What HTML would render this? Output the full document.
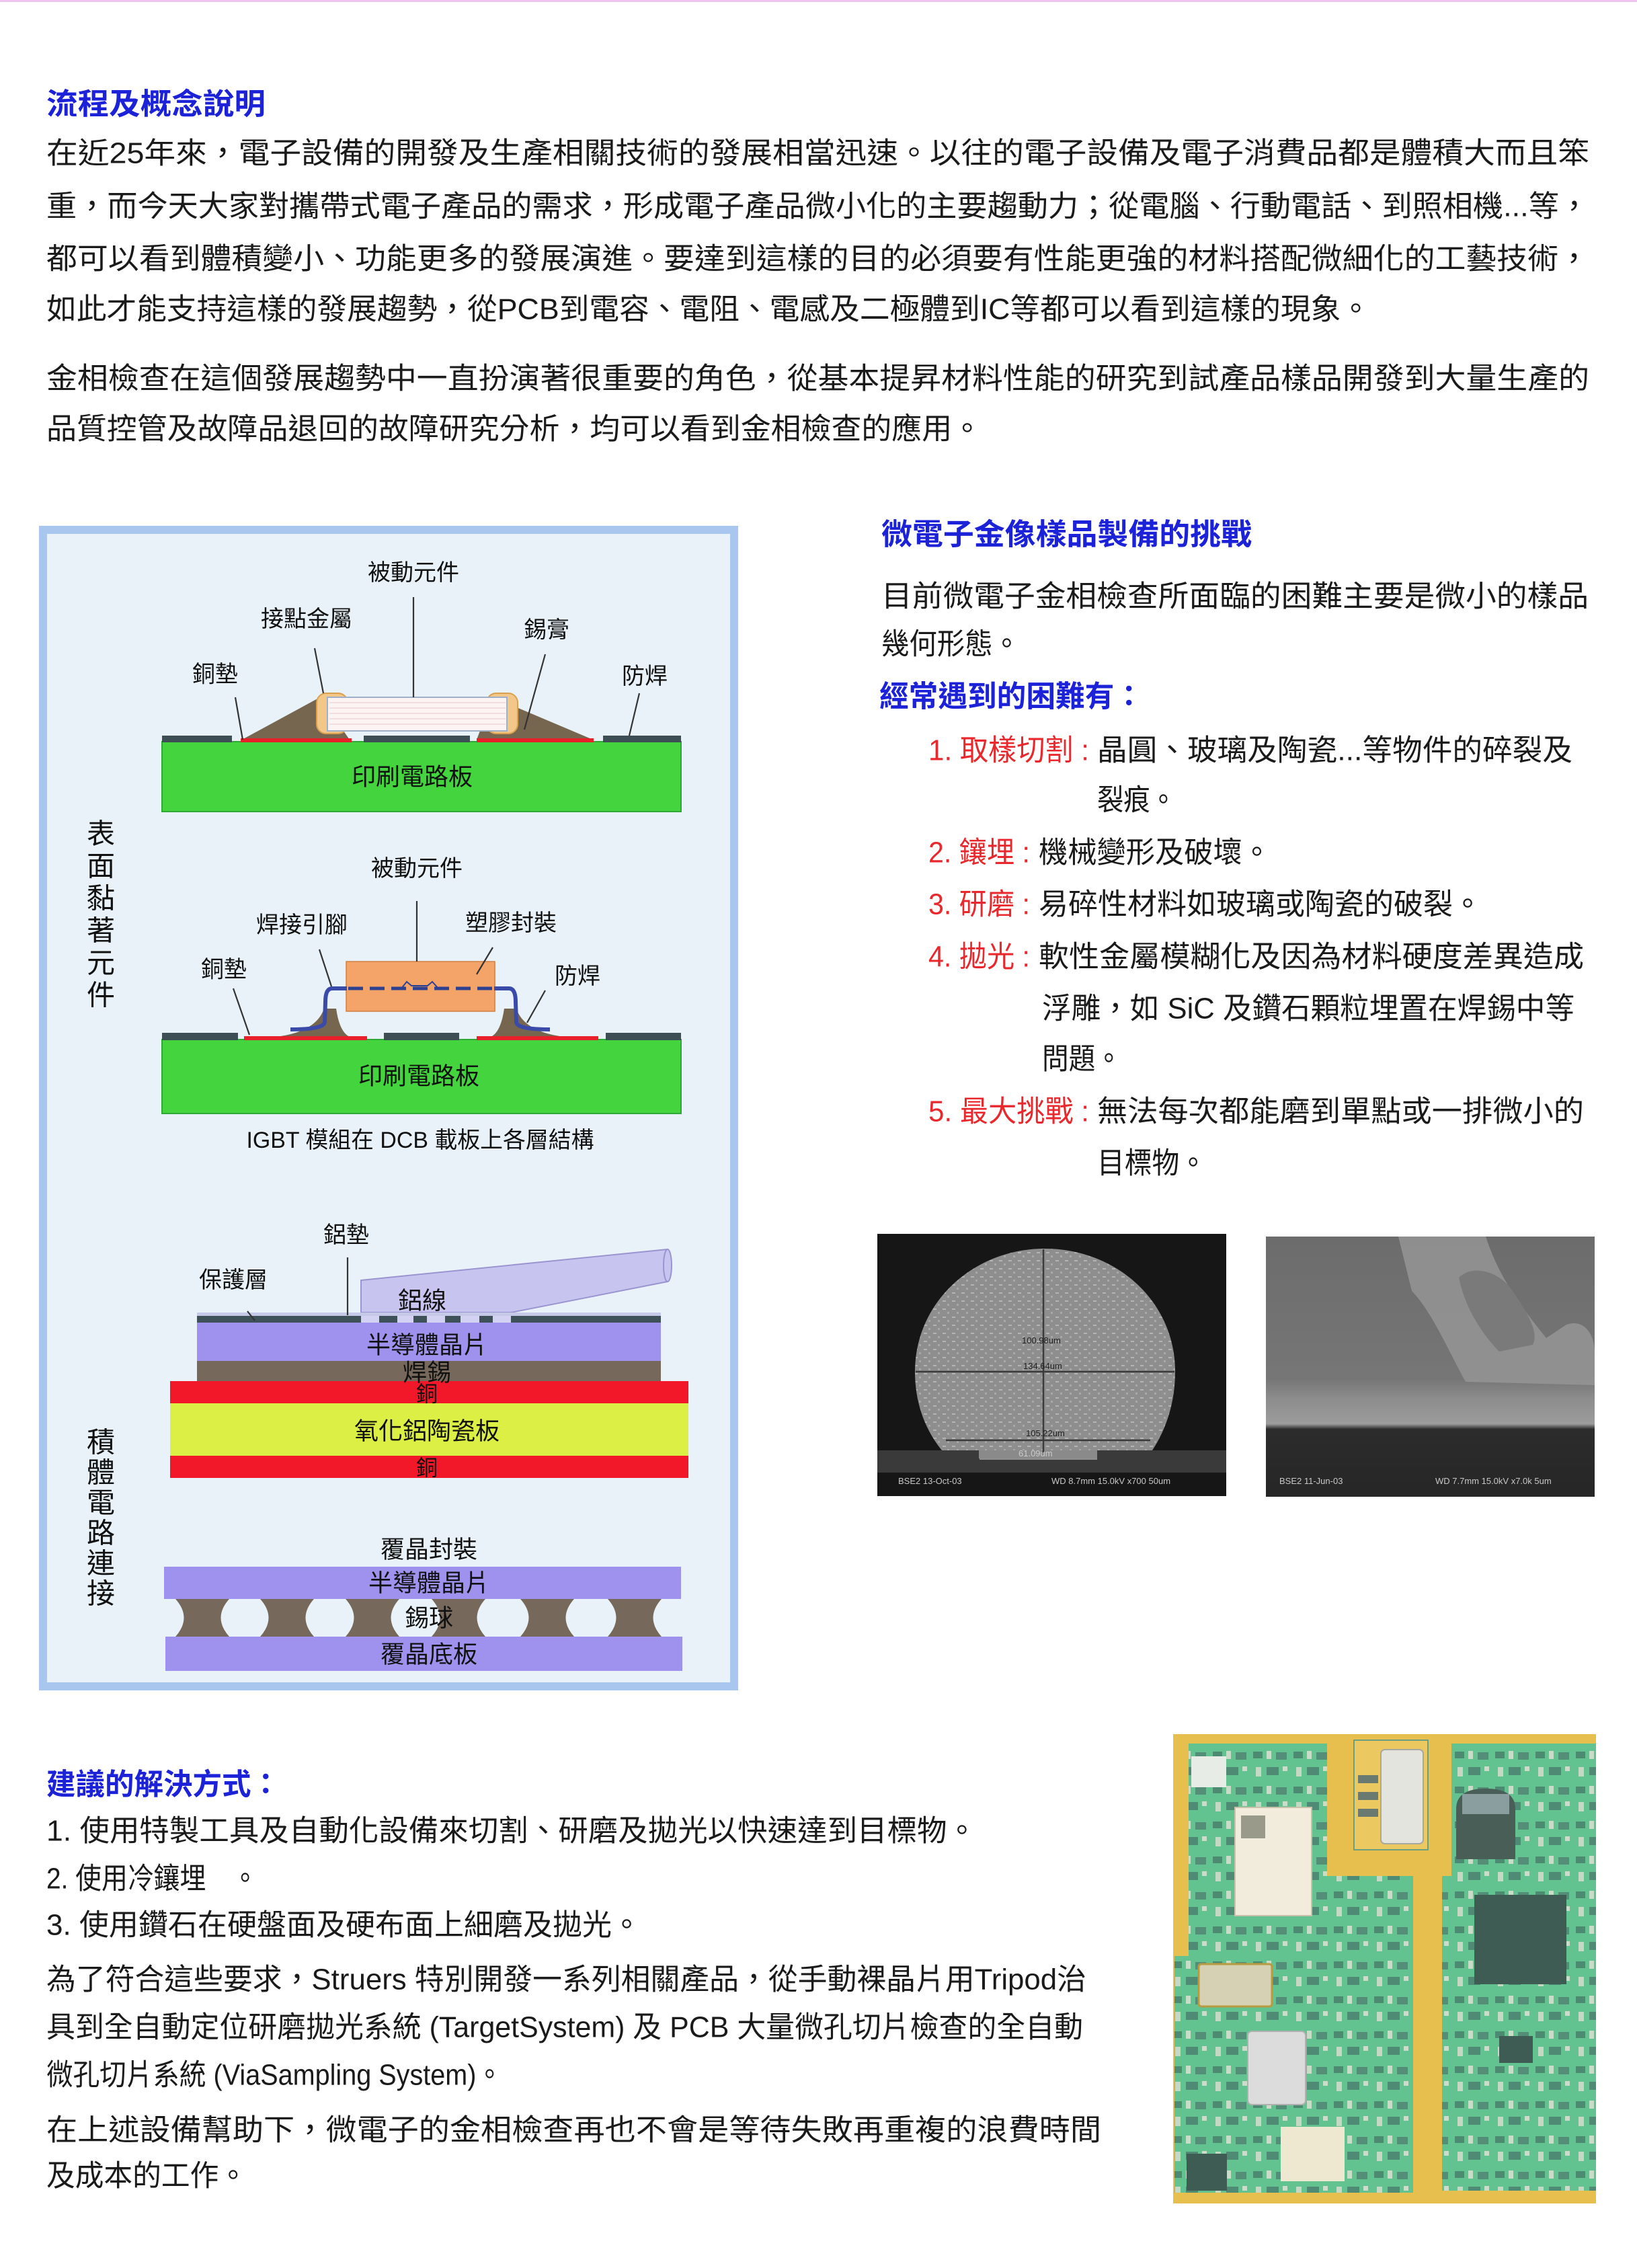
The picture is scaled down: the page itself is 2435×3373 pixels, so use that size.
<!DOCTYPE html>
<html><head><meta charset="utf-8">
<style>
html,body{margin:0;padding:0;background:#fff;}
svg{display:block;}
text{font-family:"Liberation Sans","Noto Sans CJK TC",sans-serif;}
.b{font-size:44px;fill:#1a1a1a;}
.h{font-size:44px;font-weight:bold;fill:#1c22d8;}
.r{font-size:44px;fill:#e8282c;}
.d{font-size:34px;fill:#111;}
.dl{font-size:36px;fill:#111;}
.ln{stroke:#333;stroke-width:2.2;fill:none;}
</style></head>
<body>
<svg width="2435" height="3373" viewBox="0 0 2435 3373" xmlns="http://www.w3.org/2000/svg">
<defs>
<pattern id="tex" width="14" height="12" patternUnits="userSpaceOnUse">
<rect width="14" height="12" fill="#8e8e8e"/>
<rect x="2" y="2" width="5" height="2" fill="#b4b4b4"/>
<rect x="9" y="7" width="3" height="3" fill="#a8a8a8"/>
</pattern>
<pattern id="comp" width="60" height="52" patternUnits="userSpaceOnUse">
<rect width="60" height="52" fill="#62c290"/>
<rect x="4" y="5" width="14" height="10" fill="#4d8a72"/>
<rect x="24" y="4" width="7" height="12" fill="#c8dcc8"/>
<rect x="38" y="6" width="16" height="11" fill="#548e78"/>
<rect x="8" y="28" width="8" height="14" fill="#c4d8c4"/>
<rect x="24" y="28" width="18" height="12" fill="#4f8a74"/>
<rect x="48" y="27" width="7" height="7" fill="#cadcca"/>
</pattern>
<linearGradient id="sem2" x1="0" y1="0" x2="0" y2="1">
<stop offset="0" stop-color="#6c6c6c"/>
<stop offset="0.55" stop-color="#767676"/>
<stop offset="0.62" stop-color="#8c8c8c"/>
<stop offset="0.72" stop-color="#9c9c9c"/>
<stop offset="0.74" stop-color="#2c2c2c"/>
<stop offset="1" stop-color="#262626"/>
</linearGradient>
</defs>

<rect x="0" y="0" width="2435" height="3" fill="#f0c4f0"/>

<text class="h" x="69" y="155" dominant-baseline="central" textLength="326" lengthAdjust="spacingAndGlyphs">流程及概念說明</text>
<text class="b" x="69" y="228" dominant-baseline="central" textLength="2295" lengthAdjust="spacingAndGlyphs">在近25年來，電子設備的開發及生產相關技術的發展相當迅速。以往的電子設備及電子消費品都是體積大而且笨</text>
<text class="b" x="69" y="307" dominant-baseline="central" textLength="2295" lengthAdjust="spacingAndGlyphs">重，而今天大家對攜帶式電子產品的需求，形成電子產品微小化的主要趨動力；從電腦、行動電話、到照相機...等，</text>
<text class="b" x="69" y="385" dominant-baseline="central" textLength="2295" lengthAdjust="spacingAndGlyphs">都可以看到體積變小、功能更多的發展演進。要達到這樣的目的必須要有性能更強的材料搭配微細化的工藝技術，</text>
<text class="b" x="69" y="460" dominant-baseline="central" textLength="1970" lengthAdjust="spacingAndGlyphs">如此才能支持這樣的發展趨勢，從PCB到電容、電阻、電感及二極體到IC等都可以看到這樣的現象。</text>
<text class="b" x="69" y="563" dominant-baseline="central" textLength="2295" lengthAdjust="spacingAndGlyphs">金相檢查在這個發展趨勢中一直扮演著很重要的角色，從基本提昇材料性能的研究到試產品樣品開發到大量生產的</text>
<text class="b" x="69" y="638" dominant-baseline="central" textLength="1392" lengthAdjust="spacingAndGlyphs">品質控管及故障品退回的故障研究分析，均可以看到金相檢查的應用。</text>

<rect x="64" y="788" width="1028" height="1720" fill="#e9f2f8" stroke="#a8c6ee" stroke-width="12"/>

<rect x="241" y="1103" width="772" height="104" fill="#44d43e" stroke="#2fa836" stroke-width="2"/>
<rect x="241" y="1094" width="104" height="10" fill="#3d4f55"/>
<rect x="541" y="1094" width="158" height="10" fill="#3d4f55"/>
<rect x="897" y="1094" width="116" height="10" fill="#3d4f55"/>
<polygon points="360,1100 476,1037 520,1100" fill="#76664f"/>
<polygon points="733,1037 882,1100 709,1100" fill="#76664f"/>
<rect x="358" y="1098" width="165" height="6" fill="#e8202a"/>
<rect x="709" y="1098" width="174" height="6" fill="#e8202a"/>
<rect x="471" y="1031" width="46" height="60" rx="14" fill="#f3c788" stroke="#d9a050" stroke-width="2"/>
<rect x="724" y="1031" width="46" height="60" rx="14" fill="#f3c788" stroke="#d9a050" stroke-width="2"/>
<rect x="487" y="1037" width="267" height="50" fill="#fbf4f2" stroke="#a0b0c8" stroke-width="2"/>
<g stroke="#f0d4d4" stroke-width="1.5">
<line x1="490" y1="1045" x2="752" y2="1045"/><line x1="490" y1="1053" x2="752" y2="1053"/>
<line x1="490" y1="1061" x2="752" y2="1061"/><line x1="490" y1="1069" x2="752" y2="1069"/>
<line x1="490" y1="1077" x2="752" y2="1077"/></g>
<text class="d" x="615" y="852" text-anchor="middle" dominant-baseline="central">被動元件</text>
<line class="ln" x1="615" y1="888" x2="615" y2="1037"/>
<text class="d" x="456" y="921" text-anchor="middle" dominant-baseline="central">接點金屬</text>
<line class="ln" x1="468" y1="964" x2="481" y2="1031"/>
<text class="d" x="813" y="937" text-anchor="middle" dominant-baseline="central">錫膏</text>
<line class="ln" x1="811" y1="973" x2="780" y2="1085"/>
<text class="d" x="320" y="1003" text-anchor="middle" dominant-baseline="central">銅墊</text>
<line class="ln" x1="350" y1="1037" x2="361" y2="1100"/>
<text class="d" x="959" y="1006" text-anchor="middle" dominant-baseline="central">防焊</text>
<line class="ln" x1="951" y1="1031" x2="936" y2="1094"/>
<text class="dl" x="613" y="1155" text-anchor="middle" dominant-baseline="central">印刷電路板</text>

<g class="dl" text-anchor="middle" style="font-size:42px">
<text x="150" y="1240" dominant-baseline="central">表</text>
<text x="150" y="1288" dominant-baseline="central">面</text>
<text x="150" y="1336" dominant-baseline="central">黏</text>
<text x="150" y="1384" dominant-baseline="central">著</text>
<text x="150" y="1432" dominant-baseline="central">元</text>
<text x="150" y="1480" dominant-baseline="central">件</text>
</g>

<rect x="241" y="1546" width="772" height="110" fill="#44d43e" stroke="#2fa836" stroke-width="2"/>
<rect x="241" y="1536" width="113" height="11" fill="#3d4f55"/>
<rect x="571" y="1536" width="112" height="11" fill="#3d4f55"/>
<rect x="901" y="1536" width="112" height="11" fill="#3d4f55"/>
<path d="M410,1542 Q470,1535 482,1500 L500,1500 Q505,1535 520,1542 Z" fill="#76664f"/>
<path d="M840,1542 Q780,1535 768,1500 L750,1500 Q745,1535 730,1542 Z" fill="#76664f"/>
<rect x="363" y="1541" width="183" height="6" fill="#e8202a"/>
<rect x="709" y="1541" width="181" height="6" fill="#e8202a"/>
<rect x="515" y="1430" width="221" height="74" fill="#f4a468" stroke="#d08040" stroke-width="1.5"/>
<path d="M516,1470 L494,1470 Q484,1470 484,1490 L483,1520 Q482,1531 432,1531" stroke="#3a4aa8" stroke-width="6" fill="none"/>
<path d="M735,1470 L757,1470 Q767,1470 767,1490 L768,1520 Q769,1531 818,1531" stroke="#3a4aa8" stroke-width="6" fill="none"/>
<line x1="518" y1="1470" x2="734" y2="1470" stroke="#2e4090" stroke-width="5" stroke-dasharray="22,10"/>
<path d="M597,1470 L605,1460 L612,1466 L636,1466 L643,1460 L652,1470" stroke="#2e4090" stroke-width="2" fill="none"/>
<text class="d" x="620" y="1292" text-anchor="middle" dominant-baseline="central">被動元件</text>
<line class="ln" x1="620" y1="1340" x2="620" y2="1430"/>
<text class="d" x="449" y="1376" text-anchor="middle" dominant-baseline="central">焊接引腳</text>
<line class="ln" x1="475" y1="1412" x2="493" y2="1467"/>
<text class="d" x="760" y="1373" text-anchor="middle" dominant-baseline="central">塑膠封裝</text>
<line class="ln" x1="733" y1="1409" x2="709" y2="1449"/>
<text class="d" x="333" y="1442" text-anchor="middle" dominant-baseline="central">銅墊</text>
<line class="ln" x1="347" y1="1470" x2="371" y2="1539"/>
<text class="d" x="859" y="1452" text-anchor="middle" dominant-baseline="central">防焊</text>
<line class="ln" x1="811" y1="1473" x2="784" y2="1521"/>
<text class="dl" x="623" y="1600" text-anchor="middle" dominant-baseline="central">印刷電路板</text>
<text class="d" x="625" y="1696" text-anchor="middle" dominant-baseline="central" textLength="517" lengthAdjust="spacingAndGlyphs">IGBT 模組在 DCB 載板上各層結構</text>

<polygon points="537,1904 993,1858 993,1906 760,1952 537,1952" fill="#c8c4f0" stroke="#9a94d0" stroke-width="2"/>
<ellipse cx="993" cy="1882" rx="6" ry="24" fill="#c8c4f0" stroke="#9a94d0" stroke-width="2"/>
<rect x="293" y="1952" width="690" height="6" fill="#c6c8e8"/>
<rect x="293" y="1957" width="690" height="10" fill="#3e5058"/>
<g fill="#d4d2f2">
<rect x="537" y="1957" width="27" height="10"/><rect x="591" y="1957" width="24" height="10"/>
<rect x="635" y="1957" width="27" height="10"/><rect x="685" y="1957" width="28" height="10"/>
<rect x="733" y="1957" width="27" height="10"/></g>
<rect x="293" y="1967" width="690" height="57" fill="#9e92ee"/>
<rect x="293" y="2024" width="690" height="30" fill="#76685a"/>
<rect x="253" y="2054" width="771" height="33" fill="#f2182a"/>
<rect x="253" y="2087" width="771" height="78" fill="#dcef44"/>
<rect x="253" y="2165" width="771" height="33" fill="#f2182a"/>
<text class="d" x="515" y="1837" text-anchor="middle" dominant-baseline="central">鋁墊</text>
<line class="ln" x1="517" y1="1870" x2="517" y2="1956"/>
<text class="d" x="347" y="1904" text-anchor="middle" dominant-baseline="central">保護層</text>
<line class="ln" x1="368" y1="1950" x2="379" y2="1964"/>
<text class="dl" x="628" y="1934" text-anchor="middle" dominant-baseline="central">鋁線</text>
<text class="dl" x="635" y="2000" text-anchor="middle" dominant-baseline="central">半導體晶片</text>
<text class="dl" x="635" y="2041" text-anchor="middle" dominant-baseline="central">焊錫</text>
<text class="dl" x="635" y="2073" text-anchor="middle" dominant-baseline="central" style="font-size:32px">銅</text>
<text class="dl" x="635" y="2128" text-anchor="middle" dominant-baseline="central">氧化鋁陶瓷板</text>
<text class="dl" x="635" y="2183" text-anchor="middle" dominant-baseline="central" style="font-size:32px">銅</text>

<text class="dl" x="638" y="2304" text-anchor="middle" dominant-baseline="central">覆晶封裝</text>
<rect x="244" y="2330" width="769" height="48" fill="#9e92ee"/>
<g fill="#76685a">
<path d="M261,2378 L341,2378 Q316,2406 341,2434 L261,2434 Q286,2406 261,2378 Z"/>
<path d="M387,2378 L467,2378 Q442,2406 467,2434 L387,2434 Q412,2406 387,2378 Z"/>
<path d="M514,2378 L594,2378 Q569,2406 594,2434 L514,2434 Q539,2406 514,2378 Z"/>
<path d="M642,2378 L722,2378 Q697,2406 722,2434 L642,2434 Q667,2406 642,2378 Z"/>
<path d="M774,2378 L854,2378 Q829,2406 854,2434 L774,2434 Q799,2406 774,2378 Z"/>
<path d="M904,2378 L984,2378 Q959,2406 984,2434 L904,2434 Q929,2406 904,2378 Z"/>
</g>
<rect x="246" y="2434" width="769" height="51" fill="#9e92ee"/>
<text class="dl" x="638" y="2354" text-anchor="middle" dominant-baseline="central">半導體晶片</text>
<text class="dl" x="638" y="2406" text-anchor="middle" dominant-baseline="central">錫球</text>
<text class="dl" x="638" y="2460" text-anchor="middle" dominant-baseline="central">覆晶底板</text>

<g class="dl" text-anchor="middle" style="font-size:42px">
<text x="150" y="2145" dominant-baseline="central">積</text>
<text x="150" y="2190" dominant-baseline="central">體</text>
<text x="150" y="2235" dominant-baseline="central">電</text>
<text x="150" y="2280" dominant-baseline="central">路</text>
<text x="150" y="2325" dominant-baseline="central">連</text>
<text x="150" y="2370" dominant-baseline="central">接</text>
</g>

<text class="h" x="1311" y="795" dominant-baseline="central" textLength="551" lengthAdjust="spacingAndGlyphs">微電子金像樣品製備的挑戰</text>
<text class="b" x="1311" y="887" dominant-baseline="central" textLength="1052" lengthAdjust="spacingAndGlyphs">目前微電子金相檢查所面臨的困難主要是微小的樣品</text>
<text class="b" x="1311" y="958" dominant-baseline="central" textLength="207" lengthAdjust="spacingAndGlyphs">幾何形態。</text>
<text class="h" x="1308" y="1036" dominant-baseline="central" textLength="393" lengthAdjust="spacingAndGlyphs">經常遇到的困難有：</text>

<text class="r" x="1381" y="1116" dominant-baseline="central" textLength="239" lengthAdjust="spacingAndGlyphs">1. 取樣切割 :</text>
<text class="b" x="1632" y="1116" dominant-baseline="central" textLength="707" lengthAdjust="spacingAndGlyphs">晶圓、玻璃及陶瓷...等物件的碎裂及</text>
<text class="b" x="1632" y="1190" dominant-baseline="central" textLength="118" lengthAdjust="spacingAndGlyphs">裂痕。</text>
<text class="r" x="1381" y="1268" dominant-baseline="central" textLength="151" lengthAdjust="spacingAndGlyphs">2. 鑲埋 :</text>
<text class="b" x="1545" y="1268" dominant-baseline="central" textLength="346" lengthAdjust="spacingAndGlyphs">機械變形及破壞。</text>
<text class="r" x="1381" y="1345" dominant-baseline="central" textLength="151" lengthAdjust="spacingAndGlyphs">3. 研磨 :</text>
<text class="b" x="1545" y="1345" dominant-baseline="central" textLength="660" lengthAdjust="spacingAndGlyphs">易碎性材料如玻璃或陶瓷的破裂。</text>
<text class="r" x="1381" y="1423" dominant-baseline="central" textLength="151" lengthAdjust="spacingAndGlyphs">4. 拋光 :</text>
<text class="b" x="1545" y="1423" dominant-baseline="central" textLength="811" lengthAdjust="spacingAndGlyphs">軟性金屬模糊化及因為材料硬度差異造成</text>
<text class="b" x="1550" y="1500" dominant-baseline="central" textLength="792" lengthAdjust="spacingAndGlyphs">浮雕，如 SiC 及鑽石顆粒埋置在焊錫中等</text>
<text class="b" x="1550" y="1575" dominant-baseline="central" textLength="119" lengthAdjust="spacingAndGlyphs">問題。</text>
<text class="r" x="1381" y="1653" dominant-baseline="central" textLength="239" lengthAdjust="spacingAndGlyphs">5. 最大挑戰 :</text>
<text class="b" x="1632" y="1653" dominant-baseline="central" textLength="724" lengthAdjust="spacingAndGlyphs">無法每次都能磨到單點或一排微小的</text>
<text class="b" x="1632" y="1730" dominant-baseline="central" textLength="163" lengthAdjust="spacingAndGlyphs">目標物。</text>

<rect x="1305" y="1835" width="519" height="390" fill="#161616"/>
<path d="M1401,2157 C1375,2125 1361,2085 1361,2040 C1361,1935 1450,1857 1554,1857 C1660,1857 1748,1935 1748,2040 C1748,2085 1735,2125 1714,2157 Z" fill="url(#tex)"/>
<rect x="1305" y="2157" width="519" height="33" fill="#3a3a3a"/>
<rect x="1456" y="2157" width="176" height="12" fill="#8a8a8a"/>
<g stroke="#3a3a3a" stroke-width="2.5"><line x1="1552" y1="1858" x2="1552" y2="2160"/><line x1="1362" y1="2040" x2="1747" y2="2040"/><line x1="1407" y1="2142" x2="1711" y2="2142"/></g>
<line x1="1457" y1="2170" x2="1632" y2="2170" stroke="#aaa" stroke-width="1.5"/>
<g font-family="Liberation Mono,monospace" font-size="13" fill="#222"><text x="1520" y="1998">100.98um</text><text x="1522" y="2036">134.64um</text><text x="1526" y="2136">105.22um</text><text x="1515" y="2166" fill="#ccc">61.09um</text></g>
<g font-family="Liberation Mono,monospace" font-size="13" fill="#c8c8c8"><text x="1336" y="2207">BSE2  13-Oct-03</text><text x="1564" y="2207">WD 8.7mm 15.0kV x700   50um</text></g>

<rect x="1883" y="1839" width="489" height="387" fill="url(#sem2)"/>
<path d="M2080,1839 L2210,1839 C2230,1900 2260,1940 2300,1990 L2330,1970 C2360,1960 2372,1990 2372,2010 L2372,2060 L2180,2055 C2160,2020 2130,1950 2100,1920 Z" fill="#979797" opacity="0.8"/>
<path d="M2170,1900 C2190,1880 2230,1890 2250,1920 C2270,1950 2290,1980 2280,2000 L2230,2010 C2210,1990 2180,1950 2170,1900 Z" fill="#7a7a7a"/>
<g font-family="Liberation Mono,monospace" font-size="13" fill="#c8c8c8"><text x="1903" y="2207">BSE2  11-Jun-03</text><text x="2135" y="2207">WD 7.7mm 15.0kV x7.0k  5um</text></g>

<text class="h" x="69" y="2654" dominant-baseline="central" textLength="348" lengthAdjust="spacingAndGlyphs">建議的解決方式：</text>
<text class="b" x="69" y="2723" dominant-baseline="central" textLength="1384" lengthAdjust="spacingAndGlyphs">1. 使用特製工具及自動化設備來切割、研磨及拋光以快速達到目標物。</text>
<text class="b" x="69" y="2794" dominant-baseline="central" textLength="315" lengthAdjust="spacingAndGlyphs">2. 使用冷鑲埋　。</text>
<text class="b" x="69" y="2863" dominant-baseline="central" textLength="885" lengthAdjust="spacingAndGlyphs">3. 使用鑽石在硬盤面及硬布面上細磨及拋光。</text>
<text class="b" x="69" y="2944" dominant-baseline="central" textLength="1547" lengthAdjust="spacingAndGlyphs">為了符合這些要求，Struers 特別開發一系列相關產品，從手動裸晶片用Tripod治</text>
<text class="b" x="69" y="3015" dominant-baseline="central" textLength="1542" lengthAdjust="spacingAndGlyphs">具到全自動定位研磨拋光系統 (TargetSystem) 及 PCB 大量微孔切片檢查的全自動</text>
<text class="b" x="69" y="3086" dominant-baseline="central" textLength="679" lengthAdjust="spacingAndGlyphs">微孔切片系統 (ViaSampling System)。</text>
<text class="b" x="69" y="3168" dominant-baseline="central" textLength="1569" lengthAdjust="spacingAndGlyphs">在上述設備幫助下，微電子的金相檢查再也不會是等待失敗再重複的浪費時間</text>
<text class="b" x="69" y="3236" dominant-baseline="central" textLength="299" lengthAdjust="spacingAndGlyphs">及成本的工作。</text>

<rect x="1745" y="2579" width="629" height="698" fill="#e6bf4e"/>
<polygon points="1768,2593 1974,2593 1974,2790 2102,2790 2102,3261 1747,3261 1747,2909 1768,2909" fill="url(#comp)"/>
<polygon points="2159,2593 2374,2593 2374,3258 2145,3258 2145,2790 2159,2790" fill="url(#comp)"/>
<rect x="2014" y="2588" width="110" height="163" fill="#ecc860" stroke="#6aa080" stroke-width="2"/>
<rect x="2054" y="2602" width="63" height="140" rx="6" fill="#e4e4de" stroke="#a8a8a0" stroke-width="2"/>
<rect x="2020" y="2640" width="30" height="12" fill="#6a7a70"/><rect x="2020" y="2665" width="30" height="12" fill="#6a7a70"/><rect x="2020" y="2690" width="30" height="12" fill="#6a7a70"/>
<rect x="1837" y="2688" width="114" height="161" fill="#f2ecdc" stroke="#c8c0a8" stroke-width="2"/>
<rect x="1846" y="2700" width="36" height="34" fill="#9a9a8a"/>
<rect x="2193" y="2818" width="137" height="133" fill="#3e5c54"/>
<path d="M2166,2765 L2166,2690 Q2166,2660 2210,2660 Q2254,2660 2254,2690 L2254,2765 Z" fill="#4a5e58"/>
<rect x="2175" y="2668" width="70" height="30" fill="#8a9ea0"/>
<rect x="1783" y="2921" width="109" height="63" rx="4" fill="#d6d0b4" stroke="#b89a40" stroke-width="3"/>
<rect x="1856" y="3021" width="86" height="109" rx="6" fill="#dcdcdc" stroke="#b0b0b0" stroke-width="2"/>
<rect x="1905" y="3163" width="95" height="81" fill="#efe8d0"/>
<rect x="1772" y="2612" width="52" height="46" fill="#e8ece6"/>
<rect x="1765" y="3203" width="60" height="55" fill="#3e5c54"/>
<rect x="2230" y="3028" width="50" height="40" fill="#3e5c54"/>
<rect x="2109" y="2790" width="29" height="471" fill="#e6bf4e"/>
<rect x="1745" y="3261" width="629" height="16" fill="#e6bf4e"/>
</svg>
</body></html>
